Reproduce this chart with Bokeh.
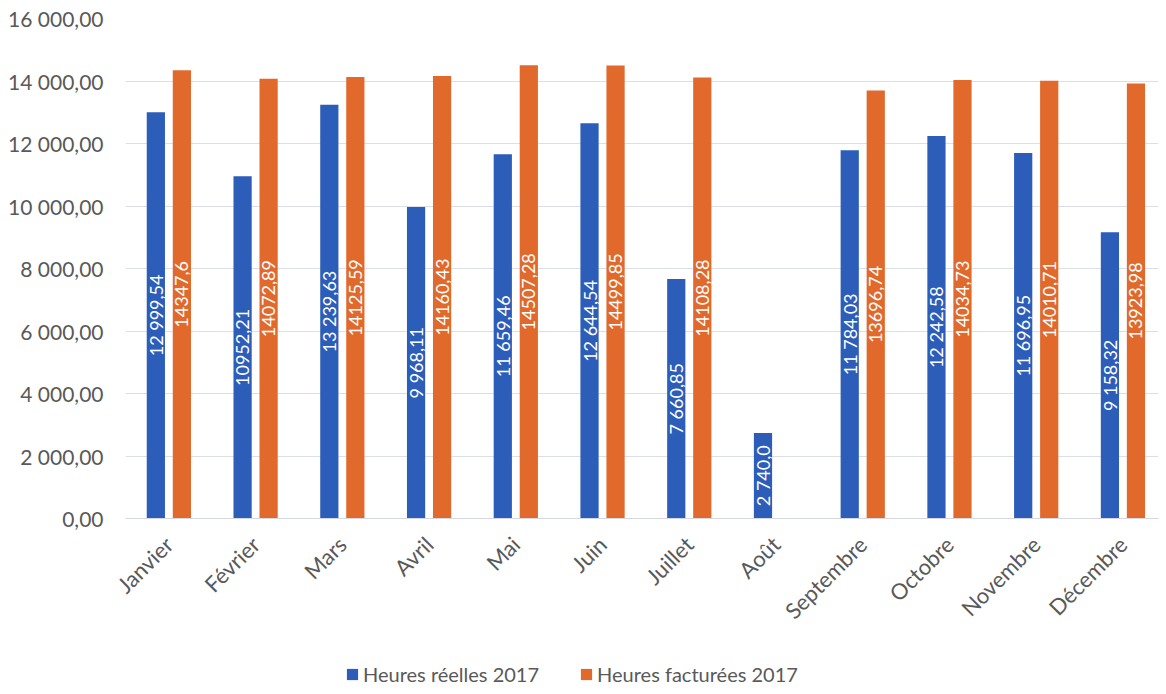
import math
from bokeh.plotting import figure
from bokeh.layouts import column
from bokeh.models import ColumnDataSource, FixedTicker, Range1d, Legend, LegendItem
from bokeh.core.properties import value
from bokeh.embed import file_html
from bokeh.resources import INLINE

months = ["Janvier", "Février", "Mars", "Avril", "Mai", "Juin", "Juillet",
          "Août", "Septembre", "Octobre", "Novembre", "Décembre"]
reelles = [12999.54, 10952.21, 13239.63, 9968.11, 11659.46, 12644.54,
           7660.85, 2740.0, 11784.03, 12242.58, 11696.95, 9158.32]
facturees = [14347.6, 14072.89, 14125.59, 14160.43, 14507.28, 14499.85,
             14108.28, float("nan"), 13696.74, 14034.73, 14010.71, 13923.98]
reelles_labels = ["12 999,54", "10952,21", "13 239,63", "9 968,11", "11 659,46",
                  "12 644,54", "7 660,85", "2 740,0", "11 784,03", "12 242,58",
                  "11 696,95", "9 158,32"]
facturees_labels = ["14347,6", "14072,89", "14125,59", "14160,43", "14507,28",
                    "14499,85", "14108,28", "", "13696,74", "14034,73",
                    "14010,71", "13923,98"]
series_names = ["Heures réelles 2017", "Heures facturées 2017"]
y_ticks = [0, 2000, 4000, 6000, 8000, 10000, 12000, 14000, 16000]
y_tick_labels = ["0,00", "2 000,00", "4 000,00", "6 000,00", "8 000,00",
                 "10 000,00", "12 000,00", "14 000,00", "16 000,00"]

BLUE = "#2C5DB9"
ORANGE = "#E1692B"
FONT = "Lato"
GREY = "#595959"

idx = list(range(len(months)))
off = 0.15
bw = 0.21

src_r = ColumnDataSource(dict(
    x=[i - off for i in idx], top=reelles, mid=[v / 2 for v in reelles],
    lab=reelles_labels))
fi = [i for i in idx if not math.isnan(facturees[i])]
src_f = ColumnDataSource(dict(
    x=[i + off for i in fi], top=[facturees[i] for i in fi],
    mid=[facturees[i] / 2 for i in fi], lab=[facturees_labels[i] for i in fi]))

p = figure(width=1160, height=636, output_backend="svg",
           toolbar_location=None, x_range=Range1d(-0.5, 11.41),
           y_range=Range1d(0, 16000), min_border_left=125, min_border_top=18,
           min_border_right=2, min_border_bottom=116)
p.outline_line_color = None
p.background_fill_color = "white"
p.border_fill_color = "white"

p.vbar(x="x", top="top", width=bw, bottom=0, source=src_r,
       fill_color=BLUE, line_color=None)
p.vbar(x="x", top="top", width=bw, bottom=0, source=src_f,
       fill_color=ORANGE, line_color=None)

for src in (src_r, src_f):
    p.text(x="x", y="mid", text="lab", source=src, angle=math.pi / 2,
           text_align="center", text_baseline="middle", text_color="white",
           text_font=value(FONT), text_font_size="18px")

p.xgrid.grid_line_color = None
p.ygrid.grid_line_color = "#DCDFEA"
p.ygrid.grid_line_width = 1
p.ygrid.ticker = FixedTicker(ticks=y_ticks)

p.yaxis.ticker = FixedTicker(ticks=y_ticks)
p.yaxis.major_label_overrides = {t: l for t, l in zip(y_ticks, y_tick_labels)}
p.yaxis.axis_line_color = None
p.yaxis.major_tick_line_color = None
p.yaxis.minor_tick_line_color = None
p.yaxis.major_label_text_font = FONT
p.yaxis.major_label_text_font_size = "21px"
p.yaxis.major_label_text_color = GREY
p.yaxis.major_label_standoff = 16

p.xaxis.ticker = FixedTicker(ticks=idx)
p.xaxis.major_label_overrides = {i: m for i, m in zip(idx, months)}
p.xaxis.major_label_orientation = math.pi / 4
p.xaxis.axis_line_color = "#D5D8E2"
p.xaxis.major_tick_line_color = None
p.xaxis.minor_tick_line_color = None
p.xaxis.major_label_text_font = FONT
p.xaxis.major_label_text_font_size = "22px"
p.xaxis.major_label_text_color = GREY
p.xaxis.major_label_standoff = 16

# legend strip
lf = figure(width=1160, height=54, output_backend="svg", toolbar_location=None,
            x_range=Range1d(0, 1), y_range=Range1d(0, 1), min_border=0)
lf.outline_line_color = None
lf.axis.visible = False
lf.grid.visible = False
l1 = lf.vbar(x=[-5], top=[-5], bottom=-6, width=0.1,
             fill_color=BLUE, line_color=None)
l2 = lf.vbar(x=[-5], top=[-5], bottom=-6, width=0.1,
             fill_color=ORANGE, line_color=None)
legend = Legend(items=[LegendItem(label=series_names[0], renderers=[l1]),
                       LegendItem(label=series_names[1], renderers=[l2])],
                orientation="horizontal", location=(220, 4),
                label_text_font=FONT, label_text_font_size="20px",
                label_text_color=GREY, glyph_width=14, glyph_height=14,
                spacing=40, border_line_color=None, margin=0, padding=0,
                label_standoff=4, background_fill_alpha=0)
lf.add_layout(legend, "center")

layout = column(p, lf, spacing=0)
open("out.html", "w").write(file_html(layout, INLINE))
